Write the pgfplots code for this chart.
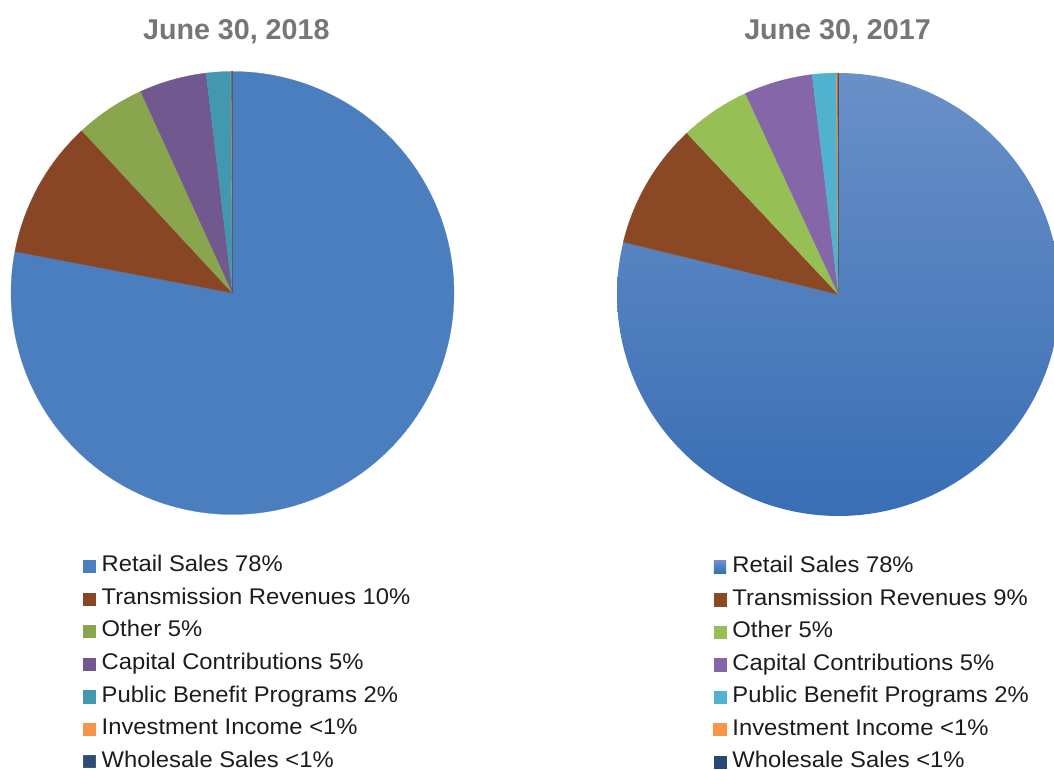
\documentclass[border=0pt]{standalone}
\usepackage{pgfplots}
\pgfplotsset{compat=1.18}
\usepackage{pgfplotstable}
\usepackage{fontspec}
\setmainfont{Liberation Sans}
\newfontfamily\legfont[FakeStretch=1.05]{Liberation Sans}

\definecolor{titlegray}{RGB}{118,118,120}
\definecolor{txt}{RGB}{30,27,28}
% 2018 colours
\definecolor{aRet}{RGB}{74,126,190}
\definecolor{aTra}{RGB}{137,70,36}
\definecolor{aOth}{RGB}{137,165,78}
\definecolor{aCap}{RGB}{113,88,143}
\definecolor{aPub}{RGB}{65,152,175}
\definecolor{aInv}{RGB}{247,150,70}
\definecolor{aWho}{RGB}{44,77,117}
% 2017 colours
\definecolor{bRetT}{RGB}{106,144,200}
\definecolor{bRetB}{RGB}{56,110,180}
\definecolor{bTra}{RGB}{139,72,37}
\definecolor{bOth}{RGB}{150,192,86}
\definecolor{bCap}{RGB}{133,102,168}
\definecolor{bPub}{RGB}{80,178,206}
\definecolor{bInv}{RGB}{247,150,70}
\definecolor{bWho}{RGB}{38,72,115}

\tikzset{
  sA1/.style={fill=aRet,draw=aRet,line width=0.2pt},
  sA2/.style={fill=aTra,draw=aTra,line width=0.2pt},
  sA3/.style={fill=aOth,draw=aOth,line width=0.2pt},
  sA4/.style={fill=aCap,draw=aCap,line width=0.2pt},
  sA5/.style={fill=aPub,draw=aPub,line width=0.2pt},
  sA6/.style={fill=aInv,draw=aInv,line width=0.6pt},
  sA7/.style={fill=aWho,draw=aWho!70!gray,line width=0.6pt},
  sB1/.style={top color=bRetT,bottom color=bRetB,draw=none},
  sB2/.style={fill=bTra,draw=bTra,line width=0.2pt},
  sB3/.style={fill=bOth,draw=bOth,line width=0.2pt},
  sB4/.style={fill=bCap,draw=bCap,line width=0.2pt},
  sB5/.style={fill=bPub,draw=bPub,line width=0.2pt},
  sB6/.style={fill=bInv,draw=bInv,line width=0.6pt},
  sB7/.style={fill=bWho,draw=bWho,line width=0.3pt},
}

\pgfplotstableread[col sep=comma]{
name,value,style
Retail Sales,78.0,sA1
Transmission Revenues,10.1,sA2
Other,5.1,sA3
Capital Contributions,4.9,sA4
Public Benefit Programs,1.8,sA5
Investment Income,0.05,sA6
Wholesale Sales,0.05,sA7
}\dataA

\pgfplotstableread[col sep=comma]{
name,value,style
Retail Sales,78.8,sB1
Transmission Revenues,9.2,sB2
Other,5.1,sB3
Capital Contributions,5.0,sB4
Public Benefit Programs,1.75,sB5
Investment Income,0.1,sB6
Wholesale Sales,0.05,sB7
}\dataB

\newcommand\drawpie[1]{%
  \pgfmathsetmacro\cum{0}%
  \pgfplotstablegetrowsof{#1}%
  \pgfmathtruncatemacro\nrows{\pgfplotsretval-1}%
  \pgfplotsforeachungrouped \i in {0,...,\nrows}{%
    \pgfplotstablegetelem{\i}{value}\of{#1}\let\val\pgfplotsretval
    \pgfplotstablegetelem{\i}{style}\of{#1}\let\sty\pgfplotsretval
    \pgfmathsetmacro\aend{90-3.6*\cum}%
    \pgfmathsetmacro\cum{\cum+\val}%
    \pgfmathsetmacro\astart{90-3.6*\cum}%
    \edef\doplot{\noexpand\addplot[\sty, domain=\astart:\aend, samples=180] ({cos(x)},{sin(x)}) -- (axis cs:0,0) -- cycle;}%
    \doplot
  }%
}

\pgfplotsset{
  pieaxis/.style={
    hide axis, scale only axis, clip=false,
    width=332.25pt, height=332.25pt,
    xmin=-1, xmax=1, ymin=-1, ymax=1,
    anchor=origin,
    title style={font=\bfseries\fontsize{21.5}{26}\selectfont, text=titlegray, anchor=base, inner sep=0pt},
    legend cell align=left,
    legend style={draw=none, fill=none, inner sep=0pt, anchor=north west,
      font=\legfont\fontsize{17}{20}\selectfont, text=txt,
      nodes={inner sep=0pt, text height=11.8pt, text depth=3.5pt},
      column sep=4.5pt, row sep=9.1pt},
    legend image code/.code={\path[##1] (0pt,-4.6pt) rectangle (9.2pt,4.6pt);},
  },
}

\begin{document}
\begin{tikzpicture}
\path[use as bounding box] (0pt,0pt) rectangle (790.5pt,576.75pt);
\begin{axis}[pieaxis, at={(174.375pt,357pt)},
  title={June 30, 2018},
  title style={at={(0.5,1)}, yshift=18pt, xshift=2.85pt},
  legend style={at={(0.161,-0.0935)}},
  legend entries={Retail Sales 78\%,Transmission Revenues 10\%,Other 5\%,Capital Contributions 5\%,Public Benefit Programs 2\%,Investment Income <1\%,Wholesale Sales <1\%}]
\drawpie{\dataA}
\end{axis}
\begin{axis}[pieaxis, at={(628.875pt,355.875pt)},
  title={June 30, 2017},
  title style={at={(0.5,1)}, yshift=19.5pt, xshift=-0.75pt},
  legend style={at={(0.217,-0.0915)}},
  legend entries={Retail Sales 78\%,Transmission Revenues 9\%,Other 5\%,Capital Contributions 5\%,Public Benefit Programs 2\%,Investment Income <1\%,Wholesale Sales <1\%}]
\drawpie{\dataB}
\end{axis}
\end{tikzpicture}
\end{document}
